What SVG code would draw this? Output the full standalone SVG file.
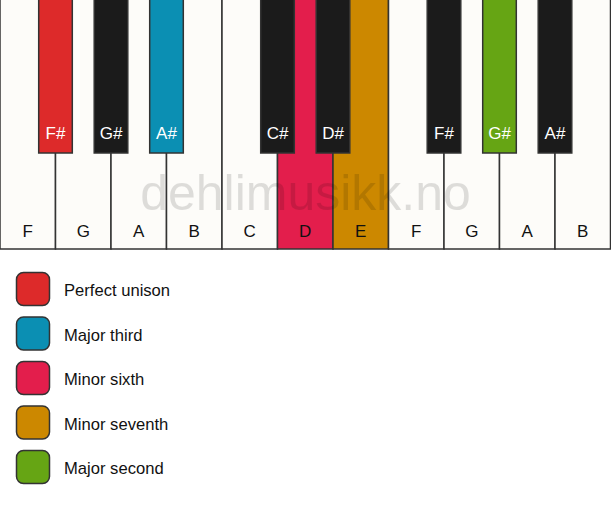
<svg xmlns="http://www.w3.org/2000/svg" width="611" height="506" viewBox="0 0 611 506">
<style>
.w{fill:#fdfcf9;stroke:#333;stroke-width:1.5}
.b{stroke:#333;stroke-width:1.5}
.sw{stroke:#333;stroke-width:1.5}
.kl{font-family:"Liberation Sans",Arial,sans-serif;font-size:17px;text-anchor:middle;fill:#111}
.bl{font-family:"Liberation Sans",Arial,sans-serif;font-size:17px;text-anchor:middle;fill:#fff}
.lg{font-family:"Liberation Sans",Arial,sans-serif;font-size:16.6px;fill:#111}
.wm{font-family:"Liberation Sans",Arial,sans-serif;font-size:50px;text-anchor:middle;fill:#000;opacity:0.12}
</style>
<rect width="611" height="506" fill="#fff"/>
<g id="white-keys">
<g id="key-F1"><rect class="w" x="0" y="-2" width="55.5" height="251"/><text class="kl" x="27.75" y="236.5">F</text></g>
<g id="key-G1"><rect class="w" x="55.5" y="-2" width="55.5" height="251"/><text class="kl" x="83.25" y="236.5">G</text></g>
<g id="key-A1"><rect class="w" x="111" y="-2" width="55.5" height="251"/><text class="kl" x="138.75" y="236.5">A</text></g>
<g id="key-B1"><rect class="w" x="166.5" y="-2" width="55.5" height="251"/><text class="kl" x="194.25" y="236.5">B</text></g>
<g id="key-C"><rect class="w" x="222" y="-2" width="55.5" height="251"/><text class="kl" x="249.75" y="236.5">C</text></g>
<g id="key-D"><rect class="w" x="277.5" y="-2" width="55.5" height="251" style="fill:#e31e4c"/><text class="kl" x="305.25" y="236.5">D</text></g>
<g id="key-E"><rect class="w" x="333" y="-2" width="55.5" height="251" style="fill:#cc8800"/><text class="kl" x="360.75" y="236.5">E</text></g>
<g id="key-F2"><rect class="w" x="388.5" y="-2" width="55.5" height="251"/><text class="kl" x="416.25" y="236.5">F</text></g>
<g id="key-G2"><rect class="w" x="444" y="-2" width="55.5" height="251"/><text class="kl" x="471.75" y="236.5">G</text></g>
<g id="key-A2"><rect class="w" x="499.5" y="-2" width="55.5" height="251"/><text class="kl" x="527.25" y="236.5">A</text></g>
<g id="key-B2"><rect class="w" x="555" y="-2" width="55.5" height="251"/><text class="kl" x="582.75" y="236.5">B</text></g>
</g>
<g id="black-keys">
<g id="key-Fs1"><rect class="b" x="38.7" y="-2" width="33.6" height="155" fill="#dd2a2a"/><text class="bl" x="55.5" y="139">F#</text></g>
<g id="key-Gs1"><rect class="b" x="94.2" y="-2" width="33.6" height="155" fill="#1b1b1b"/><text class="bl" x="111" y="139">G#</text></g>
<g id="key-As1"><rect class="b" x="149.7" y="-2" width="33.6" height="155" fill="#0b8fb3"/><text class="bl" x="166.5" y="139">A#</text></g>
<g id="key-Cs"><rect class="b" x="260.7" y="-2" width="33.6" height="155" fill="#1b1b1b"/><text class="bl" x="277.5" y="139">C#</text></g>
<g id="key-Ds"><rect class="b" x="316.2" y="-2" width="33.6" height="155" fill="#1b1b1b"/><text class="bl" x="333" y="139">D#</text></g>
<g id="key-Fs2"><rect class="b" x="427.2" y="-2" width="33.6" height="155" fill="#1b1b1b"/><text class="bl" x="444" y="139">F#</text></g>
<g id="key-Gs2"><rect class="b" x="482.7" y="-2" width="33.6" height="155" fill="#66a514"/><text class="bl" x="499.5" y="139">G#</text></g>
<g id="key-As2"><rect class="b" x="538.2" y="-2" width="33.6" height="155" fill="#1b1b1b"/><text class="bl" x="555" y="139">A#</text></g>
</g>
<text class="wm" x="305.5" y="210">dehlimusikk.no</text>
<g id="legend">
<g id="leg-unison"><rect class="sw" x="16.5" y="272.5" width="33" height="33" rx="7" fill="#dd2a2a"/><text class="lg" x="64" y="296">Perfect unison</text></g>
<g id="leg-third"><rect class="sw" x="16.5" y="317" width="33" height="33" rx="7" fill="#0b8fb3"/><text class="lg" x="64" y="340.5">Major third</text></g>
<g id="leg-sixth"><rect class="sw" x="16.5" y="361.5" width="33" height="33" rx="7" fill="#e31e4c"/><text class="lg" x="64" y="385">Minor sixth</text></g>
<g id="leg-seventh"><rect class="sw" x="16.5" y="406" width="33" height="33" rx="7" fill="#cc8800"/><text class="lg" x="64" y="429.5">Minor seventh</text></g>
<g id="leg-second"><rect class="sw" x="16.5" y="450.5" width="33" height="33" rx="7" fill="#66a514"/><text class="lg" x="64" y="474">Major second</text></g>
</g>
</svg>
